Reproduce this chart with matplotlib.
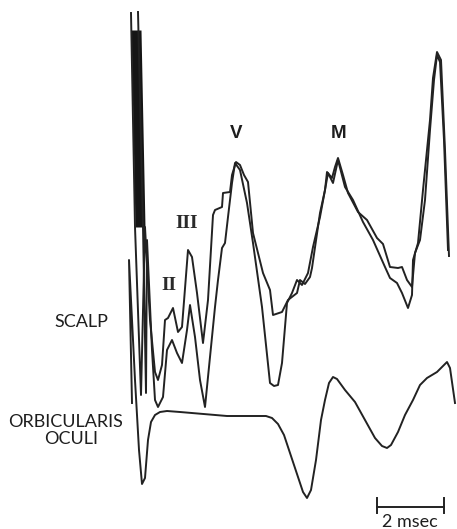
import matplotlib
matplotlib.use("Agg")
import matplotlib.pyplot as plt
import numpy as np

# traces digitised in page units (x to the right, y downward)
# scalp, sweep 1
scalp1_x = [131, 135, 141, 145, 150, 155, 158, 162, 165, 168, 173, 178, 182, 188, 192,
            197, 203, 208, 213, 215, 222, 223, 230, 232, 236, 240, 244, 248, 253, 263,
            270, 273, 282, 288, 297, 300, 305, 310, 312, 320, 325, 327, 332, 335, 338,
            343, 348, 358, 367, 377, 383, 390, 398, 402, 407, 412, 415, 420, 425, 430,
            434, 437, 440, 444, 448]
scalp1_y = [13, 227, 395, 227, 320, 372, 380, 365, 320, 318, 308, 332, 327, 250, 257,
            293, 343, 300, 215, 210, 207, 193, 192, 175, 162, 165, 175, 182, 233, 273,
            290, 315, 312, 300, 293, 280, 284, 277, 268, 213, 190, 172, 178, 167, 158,
            175, 193, 212, 220, 238, 244, 267, 268, 267, 280, 287, 253, 240, 200, 130,
            80, 55, 62, 140, 250]

# scalp, sweep 2
scalp2_x = [138, 143, 146, 147, 152, 155, 158, 163, 167, 172, 177, 182, 187, 190, 195,
            200, 205, 210, 215, 218, 222, 225, 228, 232, 235, 240, 247, 253, 262, 270,
            274, 278, 282, 287, 292, 297, 302, 308, 313, 320, 325, 328, 333, 338, 345,
            353, 363, 373, 385, 390, 397, 402, 408, 412, 413, 418, 423, 430, 433, 437,
            441, 445, 449]
scalp2_y = [12, 227, 393, 240, 350, 400, 407, 397, 350, 340, 353, 363, 330, 305, 337,
            380, 407, 357, 307, 280, 248, 243, 217, 183, 163, 170, 203, 243, 307, 383,
            386, 385, 363, 303, 293, 280, 285, 273, 247, 217, 190, 173, 183, 160, 187,
            200, 222, 240, 267, 278, 283, 293, 308, 295, 260, 243, 190, 120, 78, 52,
            60, 150, 256]

# orbicularis oculi
orb_x = [132, 129, 135, 139, 142, 145, 148, 151, 155, 160, 167, 180, 227, 266, 272,
         278, 284, 295, 303, 307, 311, 316, 321, 325, 329, 333, 337, 345, 355, 365,
         375, 382, 387, 391, 398, 405, 413, 420, 427, 437, 447, 450, 455]
orb_y = [403, 260, 380, 450, 484, 478, 440, 422, 415, 412, 411, 412, 416, 416, 418,
         424, 435, 468, 492, 498, 490, 460, 420, 400, 383, 377, 379, 390, 402, 420,
         438, 446, 448, 445, 432, 415, 400, 385, 378, 372, 362, 368, 403]

# dark band of the stimulus artifact
band_y = [30, 227]
band_left = [131, 135]
band_right = [141, 145]

# scale bar, 2 msec
bar_x = [377, 444]
bar_y = 507

line_col = "#222222"
lw = 1.4

fig = plt.figure(figsize=(4.57, 5.29), dpi=100)
ax = fig.add_axes([0, 0, 1, 1])
ax.set_xlim(0, 457)
ax.set_ylim(529, 0)
ax.axis("off")

ax.fill_betweenx(band_y, band_left, band_right, color="#151515", lw=0)
ax.plot(scalp1_x, scalp1_y, color=line_col, lw=lw, solid_joinstyle="round")
ax.plot(scalp2_x, scalp2_y, color=line_col, lw=lw, solid_joinstyle="round")
ax.plot(orb_x, orb_y, color=line_col, lw=lw, solid_joinstyle="round")

# scale bar
ax.plot(bar_x, [bar_y, bar_y], color=line_col, lw=lw)
for bx in bar_x:
    ax.plot([bx, bx], [bar_y - 9, bar_y + 6], color=line_col, lw=lw)
ax.text(np.mean(bar_x) - 1, 522, "2 msec", fontsize=13, family="Lato",
        ha="center", va="center", color="#1e1e1e")

# channel labels
lab = dict(fontsize=13, family="Lato", ha="center", va="center", color="#1e1e1e")
ax.text(81, 322, "SCALP", **lab)
ax.text(66, 422, "ORBICULARIS", **lab)
ax.text(71, 439, "OCULI", **lab)

# wave labels
ax.text(169, 286, "II", fontsize=14, family="Liberation Serif", weight="bold",
        ha="center", va="center", color="#2a2a2a")
ax.text(187, 224, "III", fontsize=14, family="Liberation Serif", weight="bold",
        ha="center", va="center", color="#2a2a2a")
ax.text(236, 134, "V", fontsize=13.5, family="Liberation Sans", weight="bold",
        ha="center", va="center", color="#1e1e1e")
ax.text(339, 134, "M", fontsize=13.5, family="Liberation Sans", weight="bold",
        ha="center", va="center", color="#1e1e1e")

fig.savefig("out.png", dpi=100)
